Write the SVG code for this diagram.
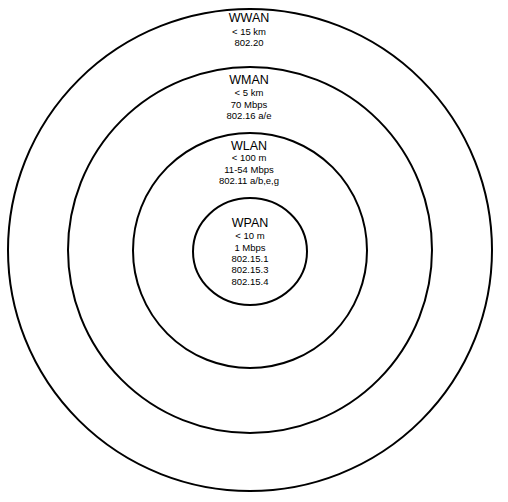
<svg xmlns="http://www.w3.org/2000/svg" width="508" height="502" viewBox="0 0 508 502">
<style>
.ring{fill:none;stroke:#000;stroke-width:2}
text{font-family:"Liberation Sans",Arial,sans-serif;fill:#000;text-anchor:middle}
.t{font-size:12.5px}
.s{font-size:9.5px}
</style>
<rect width="508" height="502" fill="#fff"/>
<g id="wwan">
<ellipse class="ring" cx="250" cy="250" rx="242" ry="241"/>
<text class="t" x="249" y="22">WWAN</text>
<text class="s" x="249" y="35">&lt; 15 km</text>
<text class="s" x="249" y="46">802.20</text>
</g>
<g id="wman">
<ellipse class="ring" cx="250" cy="250" rx="182" ry="183"/>
<text class="t" x="249" y="84">WMAN</text>
<text class="s" x="249" y="96">&lt; 5 km</text>
<text class="s" x="249" y="108">70 Mbps</text>
<text class="s" x="249" y="119">802.16 a/e</text>
</g>
<g id="wlan">
<ellipse class="ring" cx="250" cy="250.5" rx="117" ry="117.5"/>
<text class="t" x="249" y="150">WLAN</text>
<text class="s" x="249" y="161">&lt; 100 m</text>
<text class="s" x="249" y="173">11-54 Mbps</text>
<text class="s" x="249" y="184">802.11 a/b,e,g</text>
</g>
<g id="wpan">
<ellipse class="ring" cx="250" cy="251.5" rx="57" ry="53.5"/>
<text class="t" x="250" y="227">WPAN</text>
<text class="s" x="250" y="239">&lt; 10 m</text>
<text class="s" x="250" y="251">1 Mbps</text>
<text class="s" x="250" y="262">802.15.1</text>
<text class="s" x="250" y="273">802.15.3</text>
<text class="s" x="250" y="285">802.15.4</text>
</g>
<g id="connectors"/>
</svg>
